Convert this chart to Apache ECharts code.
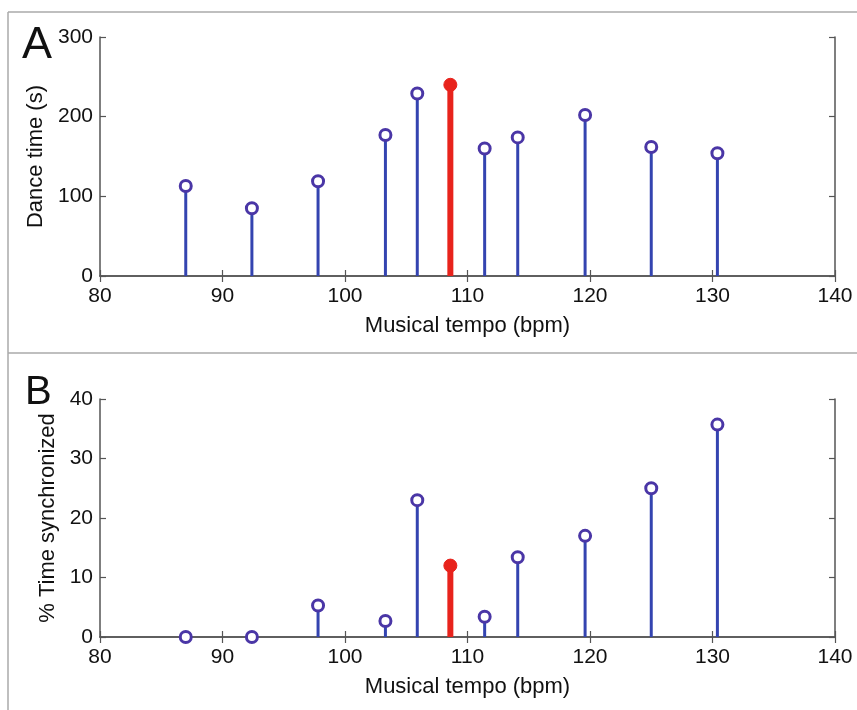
<!DOCTYPE html>
<html>
<head>
<meta charset="utf-8">
<script src="https://cdn.jsdelivr.net/npm/echarts@6/dist/echarts.min.js"></script>
<style>
html,body{margin:0;padding:0;background:#fff;}
#chart{width:857px;height:710px;}
</style>
</head>
<body>
<div id="chart"></div>
<script>
// ---- data ----
const tempo = [87.0, 92.4, 97.8, 103.3, 105.9, 108.6, 111.4, 114.1, 119.6, 125.0, 130.4];
const danceTime = [113, 85, 119, 177, 229, 240, 160, 174, 202, 162, 154];
const timeSynchronized = [0, 0, 5.3, 2.7, 23.0, 12.0, 3.4, 13.4, 17.0, 25.0, 35.7];
const highlightIndex = 5; // preferred tempo, drawn in red
const xTicks = [80, 90, 100, 110, 120, 130, 140];
const yTicksA = [0, 100, 200, 300];
const yTicksB = [0, 10, 20, 30, 40];

const BLUE = '#3444b0';
const RING = '#4a36a6';
const RED = '#e8231c';
const FRAME = '#555';
const FONT = '"Liberation Sans", Arial, Helvetica, sans-serif';

function pairs(vals, highlighted) {
  const out = [];
  tempo.forEach((t, i) => {
    if ((i === highlightIndex) === highlighted) out.push([t, vals[i]]);
  });
  return out;
}

function stemSeries(grid, data, color, width) {
  return {
    type: 'custom', xAxisIndex: grid * 2, yAxisIndex: grid * 2, data: data, clip: false, z: 2,
    renderItem: function (params, api) {
      const x = api.value(0), y = api.value(1);
      const p0 = api.coord([x, 0]);
      const p1 = api.coord([x, y]);
      return { type: 'line', shape: { x1: p0[0], y1: p0[1], x2: p1[0], y2: p1[1] },
               style: { stroke: color, lineWidth: width } };
    }
  };
}
function ringSeries(grid, data) {
  return { type: 'scatter', xAxisIndex: grid * 2, yAxisIndex: grid * 2, data: data, clip: false, z: 3,
           symbol: 'circle', symbolSize: 11,
           itemStyle: { color: '#fff', borderColor: RING, borderWidth: 3, opacity: 1 } };
}
function dotSeries(grid, data) {
  return { type: 'scatter', xAxisIndex: grid * 2, yAxisIndex: grid * 2, data: data, clip: false, z: 4,
           symbol: 'circle', symbolSize: 13,
           itemStyle: { color: RED, borderColor: RED, borderWidth: 1, opacity: 1 } };
}

const tickStyle = { show: true, inside: true, length: 6, lineStyle: { color: FRAME, width: 1.2 } };
const lineStyle = { show: true, lineStyle: { color: FRAME, width: 1.5 } };

function xAxes(grid) {
  return [
    { type: 'value', gridIndex: grid, position: 'bottom', min: xTicks[0], max: xTicks[xTicks.length - 1],
      interval: xTicks[1] - xTicks[0], axisLine: lineStyle, axisTick: tickStyle, splitLine: { show: false },
      axisLabel: { color: '#111', fontSize: 21, fontFamily: FONT, margin: 10 },
      name: 'Musical tempo (bpm)', nameLocation: 'middle', nameGap: 39,
      nameTextStyle: { color: '#111', fontSize: 22, fontFamily: FONT } },
    { type: 'value', gridIndex: grid, position: 'top', min: xTicks[0], max: xTicks[xTicks.length - 1],
      interval: xTicks[1] - xTicks[0], axisLine: lineStyle, axisTick: tickStyle, splitLine: { show: false },
      axisLabel: { show: false } }
  ];
}
function yAxes(grid, ticks, name, gap) {
  return [
    { type: 'value', gridIndex: grid, position: 'left', min: ticks[0], max: ticks[ticks.length - 1],
      interval: ticks[1] - ticks[0], axisLine: lineStyle, axisTick: tickStyle, splitLine: { show: false },
      axisLabel: { color: '#111', fontSize: 21, fontFamily: FONT, margin: 7 },
      name: name, nameLocation: 'middle', nameGap: gap,
      nameTextStyle: { color: '#111', fontSize: 22, fontFamily: FONT } },
    { type: 'value', gridIndex: grid, position: 'right', min: ticks[0], max: ticks[ticks.length - 1],
      interval: ticks[1] - ticks[0], axisLine: lineStyle, axisTick: tickStyle, splitLine: { show: false },
      axisLabel: { show: false } }
  ];
}

const chart = echarts.init(document.getElementById('chart'), null, { renderer: 'canvas' });
chart.setOption({
  backgroundColor: '#fff',
  animation: false,
  grid: [
    { left: 100, top: 37, width: 735, height: 239 },
    { left: 100, top: 399, width: 735, height: 238 }
  ],
  xAxis: xAxes(0).concat(xAxes(1)),
  yAxis: yAxes(0, yTicksA, 'Dance time (s)', 50).concat(yAxes(1, yTicksB, '% Time synchronized', 39)),
  series: [
    stemSeries(0, pairs(danceTime, false), BLUE, 3),
    stemSeries(0, pairs(danceTime, true), RED, 6),
    ringSeries(0, pairs(danceTime, false)),
    dotSeries(0, pairs(danceTime, true)),
    stemSeries(1, pairs(timeSynchronized, false), BLUE, 3),
    stemSeries(1, pairs(timeSynchronized, true), RED, 6),
    ringSeries(1, pairs(timeSynchronized, false)),
    dotSeries(1, pairs(timeSynchronized, true))
  ],
  graphic: [
    { type: 'line', shape: { x1: 8, y1: 12, x2: 857, y2: 12 }, style: { stroke: '#aaa', lineWidth: 1.5 } },
    { type: 'line', shape: { x1: 8, y1: 12, x2: 8, y2: 710 }, style: { stroke: '#aaa', lineWidth: 1.5 } },
    { type: 'line', shape: { x1: 8, y1: 353, x2: 857, y2: 353 }, style: { stroke: '#aaa', lineWidth: 1.5 } },
    { type: 'text', left: 22, top: 23, style: { text: 'A', font: '45px ' + FONT, fill: '#111' } },
    { type: 'text', left: 25, top: 373, style: { text: 'B', font: '40px ' + FONT, fill: '#111' } }
  ]
});
</script>
</body>
</html>
